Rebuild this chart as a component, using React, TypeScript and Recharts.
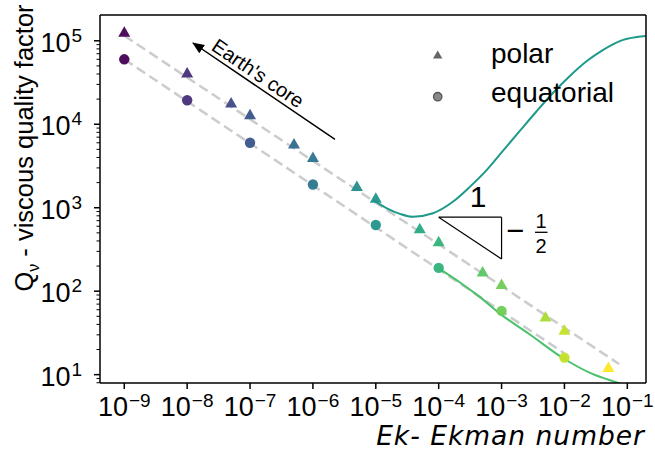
import React from "react";
import { ComposedChart, XAxis, YAxis, Line, Scatter, ReferenceLine } from "recharts";

// polar runs (triangles)
const POLAR_EK = [1e-9, 1e-8, 5e-8, 1e-7, 5e-7, 1e-6, 5e-6, 1e-5, 5e-5, 1e-4, 5e-4, 1e-3, 5e-3, 1e-2, 5e-2];
const POLAR_Q = [127000, 41000, 18000, 13000, 5800, 4000, 1800, 1300, 560, 390, 170, 120, 49, 34, 12.2];

// equatorial runs (circles)
const EQ_EK = [1e-9, 1e-8, 1e-7, 1e-6, 1e-5, 1e-4, 1e-3, 1e-2];
const EQ_Q = [60000, 19400, 6000, 1900, 620, 190, 58, 16];

// Ek^-1/2 fits (end points)
const POLAR_FIT_EK = [1e-9, 7.4e-2];
const POLAR_FIT_Q = [115000, 13.4];
const EQ_FIT_EK = [1e-9, 1e-2];
const EQ_FIT_Q = [60000, 18];

// model curves
const UPPER_EK = [8.99e-6, 1.5e-5, 2.42e-5, 3.89e-5, 8.09e-5, 1.68e-4, 3.13e-4, 5.83e-4, 1.05e-3, 1.95e-3,
  3.64e-3, 6.55e-3, 1.22e-2, 2.27e-2, 4.07e-2, 7.6e-2, 0.1416, 0.197];
const UPPER_Q = [1242, 984, 845, 778, 857, 1177, 1778, 2840, 4797, 8318,
  14420, 23660, 37840, 57150, 77400, 99200, 110700, 113800];
const LOWER_EK = [1e-4, 2.16e-4, 4.43e-4, 1e-3, 2.75e-3, 1e-2, 2.78e-2, 7.4e-2, 0.198];
const LOWER_Q = [188, 128, 86, 52, 30.7, 15.4, 10.2, 7.9, 6.1];

const X_TICKS = [1e-9, 1e-8, 1e-7, 1e-6, 1e-5, 1e-4, 1e-3, 1e-2, 1e-1];
const Y_MAJOR = [1e1, 1e2, 1e3, 1e4, 1e5];
const Y_MINOR = [8, 9, 20, 30, 40, 50, 60, 70, 80, 90, 200, 300, 400, 500, 600, 700, 800, 900,
  2000, 3000, 4000, 5000, 6000, 7000, 8000, 9000, 20000, 30000, 40000, 50000, 60000, 70000, 80000, 90000];

const SLOPE_EK = [1e-4, 1e-3];
const SLOPE_Q = [770, 243];

const X_DOMAIN = [Math.pow(10, -9.386), Math.pow(10, -0.703)];
const Y_DOMAIN = [Math.pow(10, 0.9), Math.pow(10, 5.309)];

const FONT = "'Liberation Sans', Arial, sans-serif";

const VIRIDIS = ["#440154", "#482475", "#414487", "#355f8d", "#2a788e", "#21918c",
  "#22a884", "#44bf70", "#7ad151", "#bddf26", "#fde725"];

const toRows = (xs: number[], ys: number[]) => xs.map((ek, i) => ({ ek, q: ys[i] }));

const polar = toRows(POLAR_EK, POLAR_Q);
const equatorial = toRows(EQ_EK, EQ_Q);
const polarFit = toRows(POLAR_FIT_EK, POLAR_FIT_Q);
const eqFit = toRows(EQ_FIT_EK, EQ_FIT_Q);
const upper = toRows(UPPER_EK, UPPER_Q);
const lower = toRows(LOWER_EK, LOWER_Q);

function hex(c: string) {
  return [1, 3, 5].map((i) => parseInt(c.slice(i, i + 2), 16));
}

function colorFor(ek: number) {
  const t = Math.min(1, Math.max(0, (Math.log10(ek) + 9) / (Math.log10(5e-2) + 9)));
  const p = t * (VIRIDIS.length - 1);
  const i = Math.min(VIRIDIS.length - 2, Math.floor(p));
  const f = p - i;
  const a = hex(VIRIDIS[i]);
  const b = hex(VIRIDIS[i + 1]);
  const m = a.map((v, k) => Math.round(v + (b[k] - v) * f));
  return `rgb(${m[0]},${m[1]},${m[2]})`;
}

function Tri(props: any) {
  const { cx, cy, payload } = props;
  return (
    <polygon
      points={`${cx},${cy - 6} ${cx - 6},${cy + 4.5} ${cx + 6},${cy + 4.5}`}
      fill={colorFor(payload.ek)}
      fillOpacity={0.95}
    />
  );
}

function Dot(props: any) {
  const { cx, cy, payload } = props;
  return <circle cx={cx} cy={cy} r={5.2} fill={colorFor(payload.ek)} fillOpacity={0.95} />;
}

function XTick(props: any) {
  const { x, y, payload } = props;
  const exp = Math.round(Math.log10(payload.value));
  return (
    <text x={x} y={y + 27} textAnchor="middle" fontFamily={FONT} fill="#000">
      <tspan fontSize={27}>10</tspan>
      <tspan fontSize={19} dx={1} dy={-9}>{`\u2212${-exp}`}</tspan>
    </text>
  );
}

function YTick(props: any) {
  const { x, y, payload } = props;
  const v = payload.value;
  const axisX = x + 6;
  const exp = Math.round(Math.log10(v));
  const major = Math.abs(Math.log10(v) - exp) < 1e-6;
  if (!major) {
    return <line x1={axisX - 3.5} x2={axisX} y1={y} y2={y} stroke="#000" strokeWidth={1} />;
  }
  return (
    <g>
      <line x1={axisX - 6} x2={axisX} y1={y} y2={y} stroke="#000" strokeWidth={1.5} />
      <text x={axisX - 18} y={y + 11} textAnchor="end" fontFamily={FONT} fill="#000">
        <tspan fontSize={27}>10</tspan>
        <tspan fontSize={19} dx={1} dy={-10}>{String(exp)}</tspan>
      </text>
    </g>
  );
}

export default function App() {
  return (
    <div style={{ position: "absolute", left: 0, top: 0, width: 655, height: 456, background: "#fff" }}>
      <ComposedChart width={655} height={456} margin={{ top: 15, right: 9, bottom: 13, left: 0 }}>
        <XAxis
          type="number"
          dataKey="ek"
          scale="log"
          domain={X_DOMAIN}
          allowDataOverflow
          ticks={X_TICKS}
          interval={0}
          tick={<XTick />}
          tickSize={6}
          tickMargin={0}
          tickLine={{ stroke: "#000", strokeWidth: 1.5 }}
          axisLine={{ stroke: "#000", strokeWidth: 1.5 }}
          height={60}
        />
        <YAxis
          type="number"
          dataKey="q"
          scale="log"
          domain={Y_DOMAIN}
          allowDataOverflow
          ticks={[...Y_MAJOR, ...Y_MINOR]}
          interval={0}
          tick={<YTick />}
          tickSize={6}
          tickMargin={0}
          tickLine={false}
          axisLine={{ stroke: "#000", strokeWidth: 1.5 }}
          width={100}
        />
        <Line data={polarFit} dataKey="q" stroke="#cccccc" strokeWidth={2.5} strokeDasharray="10 5" dot={false} isAnimationActive={false} />
        <Line data={eqFit} dataKey="q" stroke="#cccccc" strokeWidth={2.5} strokeDasharray="10 5" dot={false} isAnimationActive={false} />
        <Line data={upper} dataKey="q" type="monotone" stroke="#1e9a8a" strokeWidth={2} dot={false} isAnimationActive={false} />
        <Line data={lower} dataKey="q" type="monotone" stroke="#4ac16d" strokeWidth={2} dot={false} isAnimationActive={false} />
        <ReferenceLine segment={[{ x: SLOPE_EK[0], y: SLOPE_Q[0] }, { x: SLOPE_EK[1], y: SLOPE_Q[0] }]} stroke="#000" strokeWidth={1.2} />
        <ReferenceLine segment={[{ x: SLOPE_EK[1], y: SLOPE_Q[0] }, { x: SLOPE_EK[1], y: SLOPE_Q[1] }]} stroke="#000" strokeWidth={1.2} />
        <ReferenceLine segment={[{ x: SLOPE_EK[0], y: SLOPE_Q[0] }, { x: SLOPE_EK[1], y: SLOPE_Q[1] }]} stroke="#000" strokeWidth={1.2} />
        <Scatter data={polar} dataKey="q" shape={<Tri />} isAnimationActive={false} />
        <Scatter data={equatorial} dataKey="q" shape={<Dot />} isAnimationActive={false} />
      </ComposedChart>
      <svg width={655} height={456} style={{ position: "absolute", left: 0, top: 0, pointerEvents: "none" }}>
        <defs>
          <marker id="head" markerWidth="12" markerHeight="10" refX="11" refY="5" orient="auto" markerUnits="userSpaceOnUse">
            <path d="M0,0 L12,5 L0,10 z" fill="#000" />
          </marker>
        </defs>
        <line x1={100} y1={15} x2={646} y2={15} stroke="#000" strokeWidth={1.5} />
        <line x1={646} y1={15} x2={646} y2={383} stroke="#000" strokeWidth={1.5} />
        <line x1={335} y1={139.3} x2={193} y2={43} stroke="#000" strokeWidth={1.5} markerEnd="url(#head)" />
        <text x={254} y={79} fontSize={20} fontFamily={FONT} textAnchor="middle" transform="rotate(34.2 254 79)">
          Earth's core
        </text>
        <text x={478} y={207} fontSize={30} fontFamily={FONT} textAnchor="middle">1</text>
        <text x={506} y={241} fontSize={31} fontFamily={FONT}>{"\u2212"}</text>
        <text x={541} y={228} fontSize={20} fontFamily={FONT} textAnchor="middle">1</text>
        <line x1={535} x2={547.5} y1={232.3} y2={232.3} stroke="#000" strokeWidth={1.3} />
        <text x={541} y={253} fontSize={20} fontFamily={FONT} textAnchor="middle">2</text>
        <polygon points="437.7,50.5 433,58.5 442.4,58.5" fill="#666" />
        <circle cx={437.7} cy={96.7} r={4.2} fill="#888" stroke="#555" strokeWidth={1.3} />
        <text x={491} y={63} fontSize={28} fontFamily={FONT}>polar</text>
        <text x={491} y={102} fontSize={28} fontFamily={FONT}>equatorial</text>
        <text x={645} y={445} fontSize={26.5} fontFamily="'DejaVu Sans', sans-serif" fontStyle="italic" textAnchor="end" letterSpacing={1}>
          Ek- Ekman number
        </text>
        <text x={33} y={148} fontSize={25.5} fontFamily={FONT} textAnchor="middle" transform="rotate(-90 33 148)">
          Q<tspan fontSize={16} dy={6}>{"\u03bd"}</tspan>
          <tspan dy={-6}> - viscous quality factor</tspan>
        </text>
      </svg>
    </div>
  );
}
